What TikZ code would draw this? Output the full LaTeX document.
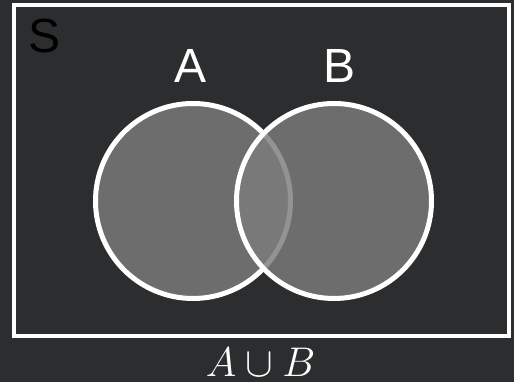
\documentclass[tikz,border=0pt]{standalone}
\usepackage{fontspec}
\setmainfont{Liberation Sans}
\usepackage{tikz}
\usetikzlibrary{positioning}
\definecolor{boardbg}{RGB}{44, 45, 46}
\definecolor{setgray}{RGB}{124, 124, 124}

\begin{document}
\begin{tikzpicture}[
    x=1pt, y=1pt,
    universe/.style={rectangle, draw=white, line width=4pt,
                     minimum width=494.5pt, minimum height=331.5pt, inner sep=0pt},
    setcirc/.style={circle, draw=white, line width=5pt, fill=setgray,
                    fill opacity=0.82, minimum size=195pt, inner sep=0pt},
    setlabel/.style={text=white, inner sep=0pt, font=\fontsize{48}{56}\selectfont},
]

% background
\fill[boardbg] (0,0) rectangle (514,382);
\useasboundingbox (0,0) rectangle (514,382);

\node[universe] (univ) at (261.25,211.25) {};
\node[inner sep=0pt, text=black, font=\fontsize{48}{56}\selectfont] (slabel) at (44.5,346.5) {S};

\node[setcirc] (setA) at (193,181) {};
\node[setcirc] (setB) at (334,181) {};

\node[setlabel] (labA) at (191,316.5) {A};
\node[setlabel] (labB) at (340,316.5) {B};

\node[text=white, inner sep=0pt, font=\fontsize{20.5}{24}\selectfont, scale=2] (union) at (260.5,19.5) {$A \cup B$};

\end{tikzpicture}
\end{document}
